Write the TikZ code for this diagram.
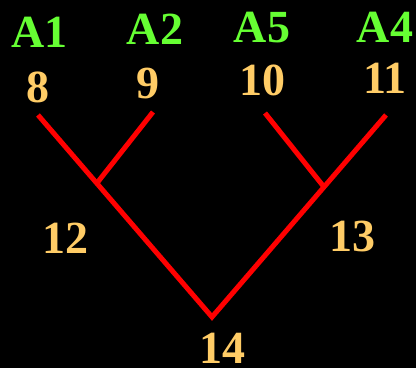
\documentclass[tikz,border=0pt]{standalone}
\usepackage{fontspec}
\setmainfont{Liberation Serif}
\definecolor{lgreen}{RGB}{102,255,51}
\definecolor{lorange}{RGB}{255,204,102}
\begin{document}
\begin{tikzpicture}[x=1pt,y=-1pt,
  lbl/.style={font=\bfseries\fontsize{46}{46}\selectfont, inner sep=0pt, anchor=base},
  taxon/.style={lbl, text=lgreen},
  num/.style={lbl, text=lorange},
  branch/.style={draw=red, line width=5pt}]
\fill[black] (0,0) rectangle (416,368);
\useasboundingbox (0,0) rectangle (416,368);
% labels
\node[taxon] (A1) at (39.5,47) {A1};
\node[taxon] (A2) at (155,44) {A2};
\node[taxon] (A5) at (262,42) {A5};
\node[taxon] (A4) at (385,42) {A4};
\node[num] (n8) at (38,102) {8};
\node[num] (n9) at (148,98) {9};
\node[num] (n10) at (262,95) {10};
\node[num] (n11) at (385,93) {11};
\node[num] (n12) at (65,253) {12};
\node[num] (n13) at (352,251) {13};
\node[num] (n14) at (222,363) {14};
% tree
\coordinate (t8) at (38,115);
\coordinate (t9) at (153,112);
\coordinate (t10) at (265,113);
\coordinate (t11) at (386,115);
\coordinate (j12) at (97,183);
\coordinate (j13) at (324,187);
\coordinate (r14) at (212,317);
\draw[branch] (t8) -- (r14) -- (t11);
\draw[branch] (t9) -- (j12);
\draw[branch] (t10) -- (j13);
\end{tikzpicture}
\end{document}
